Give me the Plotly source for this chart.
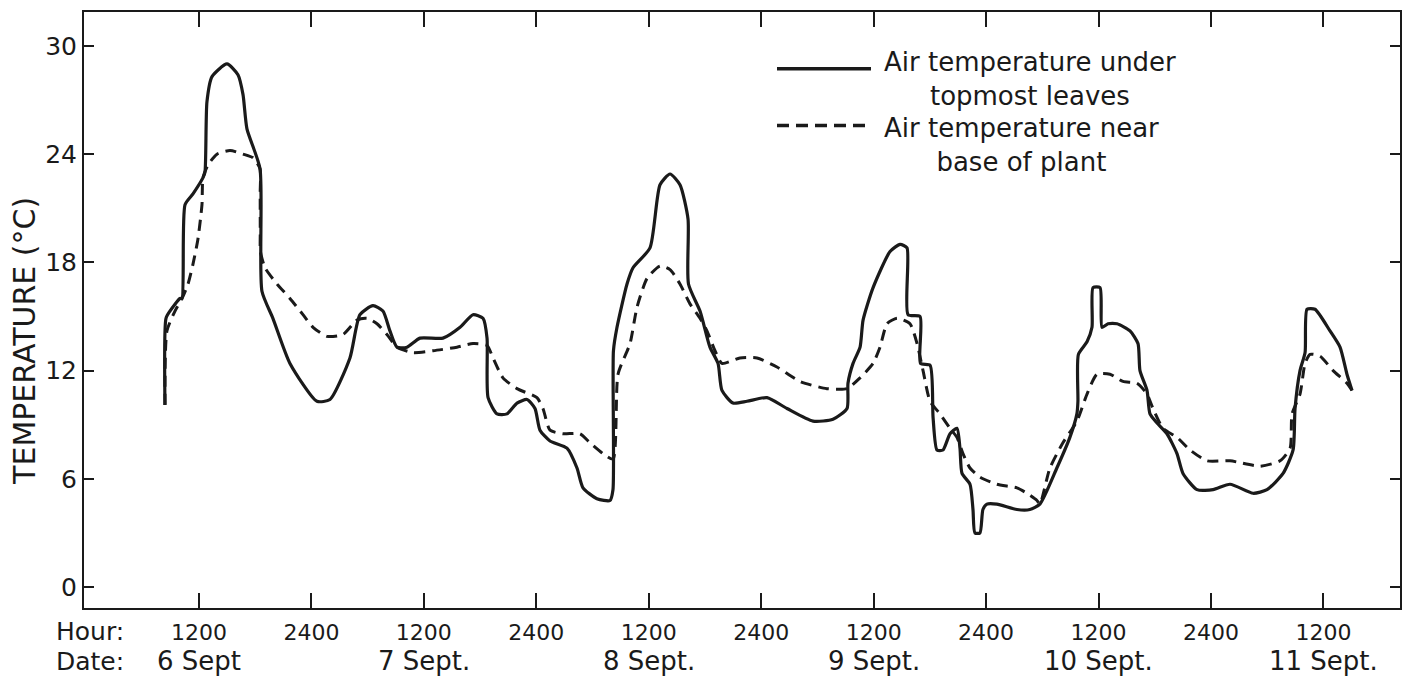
import plotly.graph_objects as go

# ---- data (hours counted from 0000 on 6 Sept; temperature in deg C) ----
top_hours = [8.37, 8.48, 8.90, 9.97, 10.19, 10.51, 11.36, 12.43, 12.64, 12.85, 13.39, 14.99,
             16.16, 16.70, 17.12, 18.51, 18.72, 19.89, 21.71, 24.59, 25.98, 28.11, 29.18,
             30.57, 31.63, 32.38, 33.13, 34.20, 35.59, 38.04, 39.86, 41.24, 42.31, 42.74,
             42.85, 43.81, 44.87, 45.94, 47.01, 47.86, 48.39, 49.46, 51.27, 52.34, 52.98,
             54.47, 55.86, 56.18, 56.23, 56.61, 57.68, 58.32, 60.13, 61.20, 62.27, 63.33,
             64.19, 64.24, 65.47, 66.53, 67.39, 67.81, 68.99, 70.48, 72.62, 74.75, 77.53,
             79.66, 81.16, 81.26, 81.80, 82.55, 82.87, 83.94, 85.75, 86.82, 87.56, 87.67,
             88.95, 89.00, 90.02, 90.34, 90.76, 91.40, 92.15, 92.89, 93.21, 93.43, 94.28,
             94.60, 94.81, 95.34, 95.66, 96.09, 97.15, 99.29, 100.67, 101.74, 103.55,
             104.94, 105.69, 105.80, 105.85, 106.77, 107.30, 107.41, 108.16, 108.37,
             109.01, 109.97, 111.36, 112.21, 112.42, 113.17, 113.49, 114.24, 115.30,
             116.37, 117.01, 118.51, 120.22, 122.03, 124.49, 125.98, 127.69, 128.76,
             128.97, 129.50, 130.04, 130.25, 131.10, 132.70, 133.77, 134.51, 135.05]
top_temp = [10.1, 14.9, 15.3, 16.0, 16.0, 21.2, 21.8, 22.7, 23.0, 26.9, 28.3, 29.0,
            28.4, 27.3, 25.4, 23.2, 16.4, 14.9, 12.4, 10.3, 10.4, 12.7, 15.1,
            15.6, 15.3, 14.2, 13.3, 13.3, 13.8, 13.8, 14.4, 15.1, 14.9, 13.8,
            10.5, 9.6, 9.6, 10.2, 10.4, 9.9, 8.7, 8.1, 7.7, 6.6, 5.5,
            4.9, 4.8, 5.4, 13.1, 14.4, 16.8, 17.7, 18.8, 22.3, 22.9, 22.3,
            20.4, 16.8, 15.3, 13.3, 12.4, 10.9, 10.2, 10.3, 10.5, 9.9, 9.2,
            9.3, 9.9, 11.3, 12.4, 13.3, 14.8, 16.6, 18.6, 19.0, 18.8, 15.1,
            15.0, 12.4, 12.3, 9.4, 7.6, 7.6, 8.5, 8.8, 7.7, 6.3, 5.7,
            4.3, 3.0, 3.0, 4.3, 4.6, 4.6, 4.3, 4.3, 4.6, 6.6,
            8.3, 9.6, 10.3, 12.9, 13.6, 14.4, 16.6, 16.6, 14.4,
            14.6, 14.6, 14.2, 13.5, 12.0, 10.9, 9.6, 9.1, 8.5,
            7.4, 6.3, 5.4, 5.4, 5.7, 5.2, 5.4, 6.3, 7.6,
            9.9, 12.0, 13.0, 15.4, 15.4, 14.2, 13.3, 11.8, 10.9]

base_hours = [8.37, 8.58, 9.44, 10.19, 10.83, 11.36, 11.89, 12.32, 12.43, 12.96, 13.92,
              15.31, 16.70, 17.76, 18.51, 18.53, 18.54, 18.56, 19.05, 20.33, 21.71, 23.10,
              24.17, 25.66, 27.37, 28.86, 29.93, 31.00, 32.06, 33.13, 34.84, 36.97, 39.53,
              41.24, 42.74, 43.38, 44.44, 45.94, 48.07, 48.71, 49.46, 50.84, 52.66, 53.72,
              55.11, 56.18, 56.72, 58.00, 58.74, 59.81, 61.20, 62.27, 63.33, 64.40, 65.47,
              66.21, 67.07, 67.81, 69.73, 71.55, 73.68, 76.13, 79.01, 81.16, 82.55, 83.94,
              84.68, 85.43, 86.50, 87.88, 88.63, 89.27, 90.02, 91.08, 92.15, 92.89, 93.53,
              94.28, 95.34, 97.15, 99.29, 100.36, 101.43, 101.74, 102.81, 104.20, 105.69,
              106.77, 107.83, 109.22, 110.61, 112.10, 113.17, 113.81, 114.88, 116.37,
              117.76, 119.57, 122.03, 125.24, 127.37, 128.44, 128.65, 129.50, 130.04,
              130.57, 131.64, 133.03, 134.51, 135.05]
base_temp = [10.1, 14.2, 15.3, 16.0, 16.8, 17.9, 19.3, 21.2, 22.7, 23.4, 24.0,
             24.2, 24.0, 23.8, 23.2, 21.8, 19.7, 18.6, 17.7, 16.8, 16.0, 15.1,
             14.4, 13.9, 14.0, 14.8, 14.9, 14.6, 14.0, 13.3, 13.0, 13.1, 13.3,
             13.5, 13.4, 12.7, 11.6, 11.0, 10.5, 9.9, 8.7, 8.5, 8.5, 8.0,
             7.4, 7.1, 11.8, 13.5, 15.5, 17.1, 17.8, 17.6, 16.8, 15.7, 14.9,
             14.2, 13.1, 12.4, 12.7, 12.7, 12.2, 11.4, 11.0, 11.0, 11.6, 12.4,
             13.3, 14.6, 14.9, 14.6, 13.5, 12.0, 10.3, 9.6, 8.8, 8.3, 7.4,
             6.6, 6.1, 5.7, 5.5, 5.2, 4.8, 4.6, 6.6, 8.0, 9.2,
             10.7, 11.8, 11.8, 11.4, 11.3, 10.7, 9.9, 8.8, 8.3,
             7.6, 7.0, 7.0, 6.7, 7.0, 7.7, 9.6, 10.7, 12.4,
             12.9, 12.8, 12.0, 11.3, 10.9]

hour_ticks = [12, 24, 36, 48, 60, 72, 84, 96, 108, 120, 132]
hour_labels = ["1200", "2400", "1200", "2400", "1200", "2400", "1200", "2400", "1200", "2400", "1200"]
date_positions = [12, 36, 60, 84, 108, 132]
date_labels = ["6 Sept", "7 Sept.", "8 Sept.", "9 Sept.", "10 Sept.", "11 Sept."]
temp_ticks = [0, 6, 12, 18, 24, 30]

legend_solid = "Air temperature under<br>topmost leaves"
legend_dashed = "Air temperature near<br>base of plant"

FONT = "DejaVu Sans"
INK = "#1a1a1a"

fig = go.Figure()
fig.add_trace(go.Scatter(x=top_hours, y=top_temp, mode="lines",
                         line=dict(color=INK, width=3.2, shape="spline", smoothing=0.6),
                         name="Air temperature under topmost leaves", showlegend=False))
fig.add_trace(go.Scatter(x=base_hours, y=base_temp, mode="lines",
                         line=dict(color=INK, width=3, dash="11px,7px", shape="spline", smoothing=0.6),
                         name="Air temperature near base of plant", showlegend=False))

W, H = 1413, 679
ml, mr, mt, mb = 84, 13, 10, 71
pw, ph = W - ml - mr, H - mt - mb

def px_x(p):
    return (p - ml) / pw

def px_y(p):
    return (H - mb - p) / ph

annotations = []
for d, lab in zip(date_positions, date_labels):
    annotations.append(dict(x=d, y=px_y(661), xref="x", yref="paper", text=lab,
                            showarrow=False, xanchor="center", yanchor="middle",
                            font=dict(family=FONT, size=26, color=INK)))
annotations.append(dict(x=px_x(126), y=px_y(632), xref="paper", yref="paper", text="Hour:",
                        showarrow=False, xanchor="right", yanchor="middle",
                        font=dict(family=FONT, size=25, color=INK)))
annotations.append(dict(x=px_x(126), y=px_y(662), xref="paper", yref="paper", text="Date:",
                        showarrow=False, xanchor="right", yanchor="middle",
                        font=dict(family=FONT, size=25, color=INK)))
annotations.append(dict(x=px_x(25), y=px_y(340), xref="paper", yref="paper",
                        text="TEMPERATURE (°C)", textangle=-90, showarrow=False,
                        xanchor="center", yanchor="middle",
                        font=dict(family=FONT, size=30, color=INK)))
annotations.append(dict(x=px_x(882), y=px_y(77), xref="paper", yref="paper", text=legend_solid,
                        showarrow=False, xanchor="left", yanchor="middle", align="center",
                        font=dict(family=FONT, size=26, color=INK)))
annotations.append(dict(x=px_x(882), y=px_y(143), xref="paper", yref="paper", text=legend_dashed,
                        showarrow=False, xanchor="left", yanchor="middle", align="center",
                        font=dict(family=FONT, size=26, color=INK)))

shapes = [
    dict(type="line", xref="paper", yref="paper", x0=px_x(777), x1=px_x(871),
         y0=px_y(67), y1=px_y(67), line=dict(color=INK, width=3.5)),
    dict(type="line", xref="paper", yref="paper", x0=px_x(777), x1=px_x(871),
         y0=px_y(124), y1=px_y(124), line=dict(color=INK, width=3.5, dash="12px,7px")),
]

fig.update_layout(
    width=W, height=H,
    margin=dict(l=ml, r=mr, t=mt, b=mb),
    paper_bgcolor="white", plot_bgcolor="white",
    font=dict(family=FONT, color=INK),
    annotations=annotations, shapes=shapes,
    xaxis=dict(range=[-0.27, 140.17], tickmode="array", tickvals=hour_ticks, ticktext=hour_labels,
               ticks="inside", ticklen=15, tickwidth=2, tickcolor=INK,
               showline=True, linewidth=2, linecolor=INK, mirror="ticks",
               showgrid=False, zeroline=False, ticklabelstandoff=4,
               tickfont=dict(family=FONT, size=22, color=INK)),
    yaxis=dict(range=[-1.16, 31.88], tickmode="array", tickvals=temp_ticks,
               ticks="inside", ticklen=10, tickwidth=2, tickcolor=INK,
               showline=True, linewidth=2, linecolor=INK, mirror="ticks",
               showgrid=False, zeroline=False, ticklabelstandoff=0,
               tickfont=dict(family=FONT, size=25, color=INK)),
)

fig.write_html("out.html", config={"displayModeBar": False},
               post_script="document.body.style.margin='0px';document.body.style.overflow='hidden';")
